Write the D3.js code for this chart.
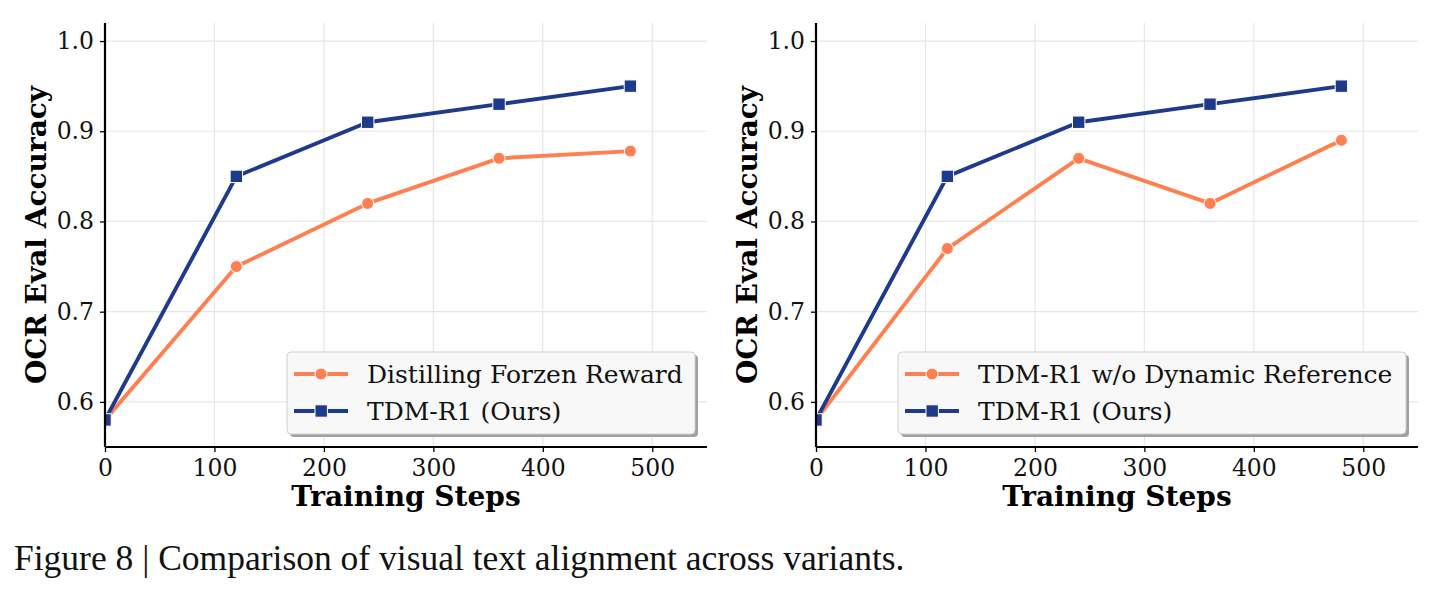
<!DOCTYPE html>
<html><head><meta charset="utf-8">
<script src="https://cdn.jsdelivr.net/npm/d3@7"></script>
<style>body{margin:0;background:#fff}</style>
</head><body>
<svg id="c" width="1436" height="592"></svg>
<script>
const steps = [0, 120, 240, 360, 480];
const leftOrange = [0.58, 0.75, 0.82, 0.87, 0.878];
const leftBlue = [0.58, 0.85, 0.91, 0.93, 0.95];
const rightOrange = [0.58, 0.77, 0.87, 0.82, 0.89];
const rightBlue = [0.58, 0.85, 0.91, 0.93, 0.95];
const xTicks = [0, 100, 200, 300, 400, 500];
const yTicks = [0.6, 0.7, 0.8, 0.9, 1.0];
const leftNames = ["Distilling Forzen Reward", "TDM-R1 (Ours)"];
const rightNames = ["TDM-R1 w/o Dynamic Reference", "TDM-R1 (Ours)"];
const caption = "Figure 8 | Comparison of visual text alignment across variants.";

const ORANGE = "#ff7f50", BLUE = "#1f3a8a";
const svg = d3.select("#c");
const FONT = "DejaVu Serif";
let pid = 0;

function panel(x0, x1, labelX, orange, blue, names, legW) {
  const top = 23, bottom = 447;
  const x = d3.scaleLinear().domain([0, 550]).range([x0, x1]);
  const y = d3.scaleLinear().domain([0.55, 1.02]).range([bottom, top]);
  const g = svg.append("g");
  const cid = "clip" + (pid++);
  svg.append("defs").append("clipPath").attr("id", cid).append("rect")
    .attr("x", x0).attr("y", top).attr("width", x1 - x0).attr("height", bottom - top);
  // grid
  g.selectAll(".gx").data(xTicks).enter().append("line")
    .attr("x1", d => x(d)).attr("x2", d => x(d)).attr("y1", top).attr("y2", bottom)
    .attr("stroke", "#e6e6e6").attr("stroke-width", 1.2);
  g.selectAll(".gy").data(yTicks).enter().append("line")
    .attr("x1", x0).attr("x2", x1).attr("y1", d => y(d)).attr("y2", d => y(d))
    .attr("stroke", "#e6e6e6").attr("stroke-width", 1.2);
  // lines
  const pg = g.append("g").attr("clip-path", `url(#${cid})`);
  const line = d3.line().x((d, i) => x(steps[i])).y(d => y(d));
  pg.append("path").datum(orange).attr("d", line).attr("fill", "none").attr("stroke", ORANGE).attr("stroke-width", 3.9).attr("stroke-linejoin", "round");
  pg.selectAll(".co").data(orange).enter().append("circle")
    .attr("cx", (d, i) => x(steps[i])).attr("cy", d => y(d)).attr("r", 6)
    .attr("fill", ORANGE).attr("stroke", "#fff").attr("stroke-width", 1);
  pg.append("path").datum(blue).attr("d", line).attr("fill", "none").attr("stroke", BLUE).attr("stroke-width", 3.9).attr("stroke-linejoin", "round");
  pg.selectAll(".sb").data(blue).enter().append("rect")
    .attr("x", (d, i) => x(steps[i]) - 6.2).attr("y", d => y(d) - 6.2).attr("width", 12.4).attr("height", 12.4)
    .attr("fill", BLUE).attr("stroke", "#fff").attr("stroke-width", 1);
  // axes
  const ax = g.append("g").attr("transform", `translate(0,${bottom})`)
    .call(d3.axisBottom(x).tickValues(xTicks).tickFormat(d3.format("d")).tickSizeOuter(0).tickSize(5).tickPadding(7));
  const ay = g.append("g").attr("transform", `translate(${x0},0)`)
    .call(d3.axisLeft(y).tickValues(yTicks).tickFormat(d3.format(".1f")).tickSizeOuter(0).tickSize(5).tickPadding(6));
  [ax, ay].forEach(a => {
    a.select(".domain").attr("stroke", "#000").attr("stroke-width", 2.2);
    a.selectAll(".tick line").attr("stroke", "#000").attr("stroke-width", 1.3);
    a.selectAll("text").attr("font-family", FONT).attr("font-size", 23.5).attr("fill", "#111");
  });
  ay.select(".domain").attr("d", `M0,${top}V${bottom}`);
  ax.select(".domain").attr("d", `M${x0},0H${x1}`);
  // labels
  g.append("text").attr("x", (x0 + x1) / 2).attr("y", 506).attr("text-anchor", "middle")
    .attr("font-family", FONT).attr("font-weight", "bold").attr("font-size", 28).text("Training Steps");
  g.append("text").attr("transform", `translate(${labelX},${(top + bottom) / 2 + 0}) rotate(-90)`)
    .attr("text-anchor", "middle").attr("font-family", FONT).attr("font-weight", "bold").attr("font-size", 28)
    .text("OCR Eval Accuracy");
  // legend
  const lx = x1 - 12 - legW, ly = 352, lh = 82;
  g.append("rect").attr("x", lx + 3).attr("y", ly + 3).attr("width", legW).attr("height", lh).attr("rx", 4)
    .attr("fill", "#a0a0a0");
  g.append("rect").attr("x", lx).attr("y", ly).attr("width", legW).attr("height", lh).attr("rx", 4)
    .attr("fill", "#f8f8f8").attr("stroke", "#d0d0d0").attr("stroke-width", 1);
  const items = [{n: names[0], c: ORANGE, m: "c"}, {n: names[1], c: BLUE, m: "s"}];
  items.forEach((it, i) => {
    const cy = ly + 22 + i * 37;
    g.append("line").attr("x1", lx + 7).attr("x2", lx + 61).attr("y1", cy).attr("y2", cy)
      .attr("stroke", it.c).attr("stroke-width", 3.9);
    if (it.m === "c") g.append("circle").attr("cx", lx + 34).attr("cy", cy).attr("r", 6).attr("fill", it.c).attr("stroke", "#fff").attr("stroke-width", 1);
    else g.append("rect").attr("x", lx + 28).attr("y", cy - 6.2).attr("width", 12.4).attr("height", 12.4).attr("fill", it.c).attr("stroke", "#fff").attr("stroke-width", 1);
    g.append("text").attr("x", lx + 80).attr("y", cy + 9).attr("font-family", FONT).attr("font-size", 25).attr("fill", "#111").text(it.n);
  });
}

panel(105, 707, 46, leftOrange, leftBlue, leftNames, 408);
panel(816, 1418, 757, rightOrange, rightBlue, rightNames, 508);

svg.append("text").attr("x", 14).attr("y", 570).attr("font-family", "Liberation Serif").attr("font-size", 35.5)
  .attr("fill", "#111").text(caption);
</script>
</body></html>
